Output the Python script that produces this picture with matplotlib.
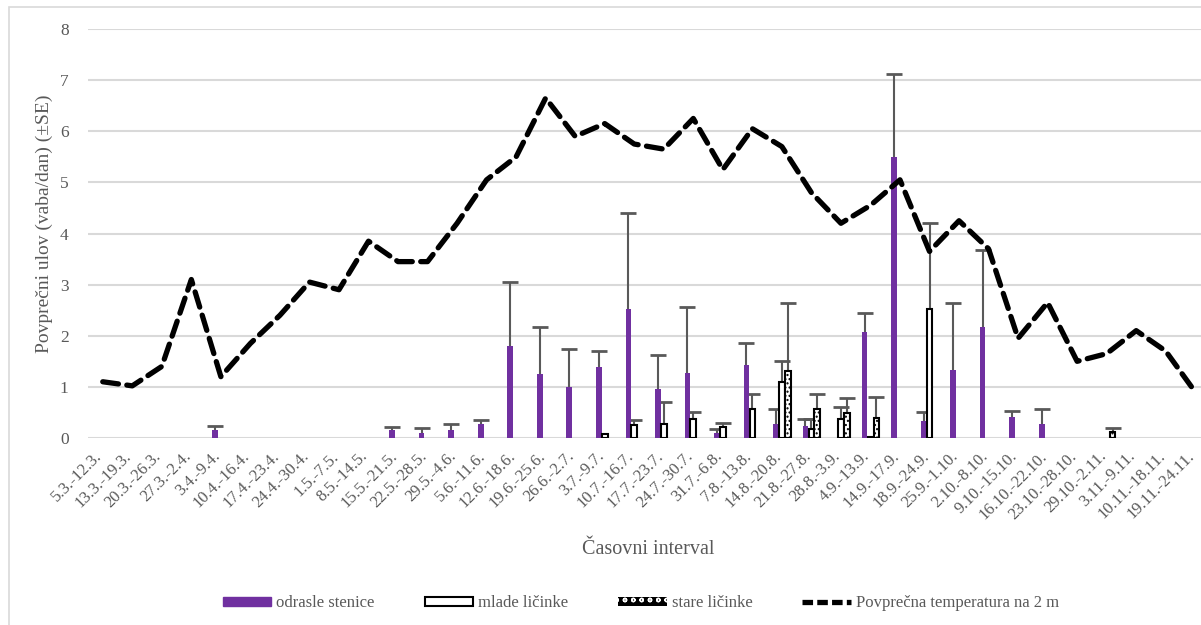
import matplotlib
matplotlib.use("Agg")
import matplotlib.pyplot as plt
import matplotlib.transforms as mtransforms
import numpy as np
from matplotlib.patches import Rectangle, Patch
from matplotlib.lines import Line2D

categories = ["5.3.-12.3.", "13.3.-19.3.", "20.3.-26.3.", "27.3.-2.4.", "3.4.-9.4.",
              "10.4.-16.4.", "17.4.-23.4.", "24.4.-30.4.", "1.5.-7.5.", "8.5.-14.5.",
              "15.5.-21.5.", "22.5.-28.5.", "29.5.-4.6.", "5.6.-11.6.", "12.6.-18.6.",
              "19.6.-25.6.", "26.6.-2.7.", "3.7.-9.7.", "10.7.-16.7.", "17.7.-23.7.",
              "24.7.-30.7.", "31.7.-6.8.", "7.8.-13.8.", "14.8.-20.8.", "21.8.-27.8.",
              "28.8.-3.9.", "4.9.-13.9.", "14.9.-17.9.", "18.9.-24.9.", "25.9.-1.10.",
              "2.10.-8.10.", "9.10.-15.10.", "16.10.-22.10.", "23.10.-28.10.", "29.10.-2.11.",
              "3.11.-9.11.", "10.11.-18.11.", "19.11.-24.11."]

adults = [0, 0, 0, 0, 0.15, 0, 0, 0, 0, 0,
          0.15, 0.10, 0.15, 0.28, 1.80, 1.25, 1.00, 1.38, 2.52, 0.95,
          1.28, 0.10, 1.43, 0.28, 0.23, 0, 2.07, 5.50, 0.33, 1.33,
          2.18, 0.42, 0.28, 0, 0, 0, 0, 0]
adults_se = [0, 0, 0, 0, 0.08, 0, 0, 0, 0, 0,
             0.07, 0.10, 0.13, 0.08, 1.25, 0.93, 0.75, 0.32, 1.88, 0.67,
             1.28, 0.08, 0.42, 0.29, 0.15, 0, 0.38, 1.62, 0.17, 1.32,
             1.50, 0.10, 0.29, 0, 0, 0, 0, 0]

young = [0, 0, 0, 0, 0, 0, 0, 0, 0, 0,
         0, 0, 0, 0, 0, 0, 0, 0.07, 0.25, 0.28,
         0.37, 0.22, 0.57, 1.10, 0.18, 0.38, 0.02, 0, 2.53, 0,
         0, 0, 0, 0, 0, 0, 0, 0]
young_se = [0, 0, 0, 0, 0, 0, 0, 0, 0, 0,
            0, 0, 0, 0, 0, 0, 0, 0, 0.11, 0.42,
            0.13, 0.08, 0.29, 0.40, 0.20, 0.22, 0, 0, 1.67, 0,
            0, 0, 0, 0, 0, 0, 0, 0]

old = [0, 0, 0, 0, 0, 0, 0, 0, 0, 0,
       0, 0, 0, 0, 0, 0, 0, 0, 0, 0,
       0, 0, 0, 1.32, 0.57, 0.48, 0.40, 0, 0, 0,
       0, 0, 0, 0, 0.12, 0, 0, 0]
old_se = [0, 0, 0, 0, 0, 0, 0, 0, 0, 0,
          0, 0, 0, 0, 0, 0, 0, 0, 0, 0,
          0, 0, 0, 1.33, 0.29, 0.30, 0.40, 0, 0, 0,
          0, 0, 0, 0, 0.08, 0, 0, 0]

temperature = [1.10, 1.02, 1.40, 3.10, 1.20, 1.85, 2.40, 3.05, 2.90, 3.85,
               3.45, 3.45, 4.20, 5.05, 5.50, 6.65, 5.90, 6.15, 5.75, 5.65,
               6.25, 5.25, 6.05, 5.70, 4.80, 4.20, 4.55, 5.05, 3.65, 4.25,
               3.70, 1.95, 2.65, 1.50, 1.65, 2.10, 1.70, 0.90]

legend_labels = ["odrasle stenice", "mlade ličinke", "stare ličinke",
                 "Povprečna temperatura na 2 m"]
y_ticks = [0, 1, 2, 3, 4, 5, 6, 7, 8]

plt.rcParams['font.family'] = ['Liberation Serif', 'DejaVu Serif']
plt.rcParams['hatch.linewidth'] = 1.0
txt = '#595959'
purple = '#7030A0'
errc = '#595959'

fig = plt.figure(figsize=(12.01, 6.25), dpi=100)
fig.patches.append(Rectangle((9/1201, -0.01), 1.05, (625-7)/625 + 0.01,
                             transform=fig.transFigure, fill=False,
                             edgecolor='#D9D9D9', linewidth=1.2))
ax = fig.add_axes([88/1201, (625-438)/625, 1122/1201, 409/625])

x = np.arange(len(categories))
w = 0.19
off = 0.2


def draw_series(pos, vals, se, **kw):
    vals = np.array(vals, dtype=float)
    se = np.array(se, dtype=float)
    m = vals > 0
    ax.bar(pos[m], vals[m], w, zorder=3, **kw)
    e = m & (se > 0)
    ax.vlines(pos[e], vals[e], vals[e] + se[e], color=errc, linewidth=1.5, zorder=2.5)
    ax.plot(pos[e], vals[e] + se[e], linestyle='none', marker='_', markersize=11,
            markeredgewidth=2, color=errc, zorder=2.5)


draw_series(x - off, adults, adults_se, color=purple)
draw_series(x.astype(float), young, young_se, facecolor='white', edgecolor='black',
            linewidth=1.5)
draw_series(x + off, old, old_se, facecolor='white', edgecolor='black',
            linewidth=1.5, hatch='....')

ax.plot(x, temperature, color='black', linewidth=3.8, linestyle=(0, (3, 1.6)),
        zorder=4, dash_capstyle='round')

ax.set_xlim(-0.5, len(categories) - 0.5)
ax.set_ylim(0, 8)
ax.set_yticks(y_ticks)
ax.set_yticklabels([str(t) for t in y_ticks], color=txt, fontsize=12.5)
ax.set_xticks(x)
ax.set_xticklabels([])
lbl_tr = ax.get_xaxis_transform() + mtransforms.ScaledTranslation(-3/100, -16/100,
                                                                    fig.dpi_scale_trans)
for xi, lab in zip(x, categories):
    ax.text(xi, 0, lab, transform=lbl_tr, rotation=45, ha='right', va='center',
            rotation_mode='anchor', color=txt, fontsize=12, clip_on=False)
ax.tick_params(axis='y', length=0, pad=14)
ax.tick_params(axis='x', length=0)
ax.grid(axis='y', color='#D9D9D9', linewidth=1.5, zorder=0)
ax.set_axisbelow(True)
for s in ax.spines.values():
    s.set_visible(False)

ax.set_ylabel("Povprečni ulov (vaba/dan) (±SE)", color=txt, fontsize=14)
ax.yaxis.set_label_coords((53 - 88) / 1122, (438 - 224) / 409)
fig.text(648/1201, 1 - 550/625, "Časovni interval", color=txt, fontsize=14.5,
         ha='center', va='center')

plt.rcParams['hatch.color'] = 'white'
stare_handle = Patch(facecolor='black', hatch='oo', linewidth=0)
handles = [Patch(facecolor=purple, edgecolor=purple),
           Patch(facecolor='white', edgecolor='black', linewidth=1.5),
           stare_handle,
           Line2D([0], [0], color='black', linewidth=3.8, linestyle=(0, (2, 0.8)))]
fig.legend(handles, legend_labels, loc='center', bbox_to_anchor=(641/1201, 1 - 603/625),
           ncol=4, frameon=False, fontsize=12, labelcolor=txt,
           handlelength=2.9, handleheight=0.45, columnspacing=3.0, handletextpad=0.3)

fig.savefig("out.png", dpi=100)
